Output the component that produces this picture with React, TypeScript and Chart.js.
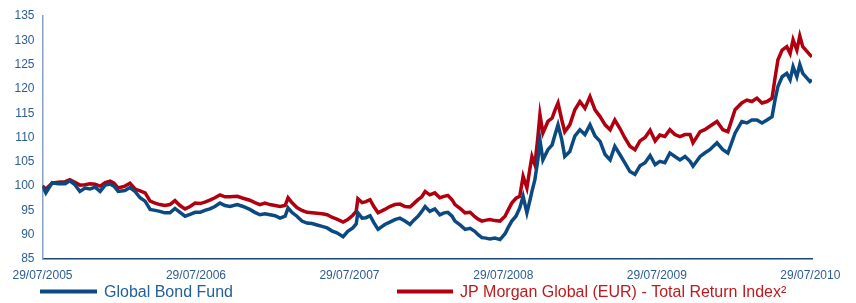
import React, { useEffect, useRef } from "react";
import { Chart, registerables } from "chart.js";

Chart.register(...registerables);

// Days since 29/07/2005
const days = [
  0, 8, 23, 37, 54, 65, 77, 89, 101, 113, 125, 137, 149, 161, 170, 180, 196, 208, 220, 232,
  244, 256, 268, 279, 291, 303, 315, 327, 339, 351, 363, 375, 386, 398, 410, 422, 434, 446, 463, 477,
  493, 505, 517, 529, 541, 553, 565, 577, 584, 593, 605, 617, 629, 641, 653, 665, 677, 688, 700, 715,
  726, 738, 746, 750, 760, 769, 779, 788, 798, 814, 826, 838, 850, 862, 874, 883, 893, 902, 910, 921,
  933, 945, 955, 964, 974, 981, 993, 1005, 1017, 1028, 1036, 1045, 1055, 1064, 1076, 1088, 1100, 1107, 1116, 1126,
  1135, 1143, 1152, 1159, 1164, 1171, 1178, 1183, 1190, 1202, 1212, 1219, 1226, 1235, 1242, 1254, 1266, 1278, 1290, 1302,
  1314, 1326, 1338, 1350, 1361, 1373, 1385, 1397, 1409, 1421, 1433, 1445, 1457, 1468, 1480, 1492, 1504, 1516, 1528, 1540,
  1547, 1564, 1575, 1587, 1604, 1618, 1630, 1647, 1663, 1675, 1687, 1699, 1711, 1723, 1735, 1742, 1749, 1759, 1770, 1778,
  1785, 1794, 1801, 1808, 1818, 1825, 1830,
];

const globalBondFund = [
  100.0, 98.6, 100.7, 100.5, 100.5, 101.1, 100.3, 98.9, 99.6, 99.4, 99.8, 98.9, 100.2, 100.4, 100.0, 98.9, 99.1, 99.7, 98.9, 97.6,
  96.9, 95.2, 95.0, 94.8, 94.5, 94.5, 95.4, 94.6, 93.8, 94.2, 94.6, 94.6, 95.0, 95.3, 95.8, 96.5, 96.0, 95.8, 96.2, 95.8,
  95.2, 94.6, 94.1, 94.3, 94.1, 93.9, 93.4, 93.8, 95.5, 94.6, 93.8, 92.8, 92.4, 92.3, 92.0, 91.7, 91.4, 90.8, 90.4, 89.6,
  90.7, 91.4, 92.2, 94.5, 93.4, 93.5, 93.9, 92.5, 91.1, 92.1, 92.6, 93.1, 93.4, 92.8, 92.1, 93.0, 93.8, 94.8, 95.8, 94.8,
  95.3, 94.1, 94.5, 94.6, 93.8, 92.8, 92.0, 91.1, 91.3, 90.7, 90.0, 89.4, 89.3, 89.1, 89.3, 89.0, 90.2, 91.4, 92.8, 93.8,
  95.5, 97.9, 94.5, 97.0, 98.9, 101.3, 105.4, 109.5, 105.4, 107.5, 108.5, 110.6, 112.6, 109.5, 106.1, 107.1, 110.3, 111.6, 110.6, 112.6,
  110.3, 109.2, 106.5, 105.4, 108.2, 106.5, 104.8, 103.0, 102.4, 104.2, 104.8, 106.3, 104.4, 105.1, 104.8, 106.8, 106.1, 105.4, 106.1, 105.1,
  104.1, 106.1, 106.8, 107.5, 108.9, 107.5, 106.8, 110.9, 113.3, 113.0, 113.6, 113.6, 113.0, 113.6, 114.3, 117.7, 120.5, 122.5, 123.2, 121.9,
  124.6, 122.5, 125.0, 123.2, 122.2, 121.5, 121.9,
];

const jpMorganGlobal = [
  100.0, 99.4, 100.6, 100.8, 100.9, 101.3, 100.8, 100.2, 100.3, 100.5, 100.4, 100.0, 100.7, 101.0, 100.6, 99.6, 100.0, 100.6, 99.4, 99.0,
  98.6, 96.9, 96.5, 96.2, 96.0, 96.2, 97.0, 96.0, 95.3, 95.8, 96.5, 96.4, 96.7, 97.1, 97.6, 98.2, 97.8, 97.8, 97.9, 97.5,
  97.1, 96.6, 96.2, 96.5, 96.2, 96.0, 95.8, 96.0, 97.6, 96.6, 95.6, 95.0, 94.6, 94.5, 94.4, 94.3, 94.1, 93.6, 93.2, 92.6,
  93.1, 94.0, 94.8, 97.4, 96.6, 96.8, 97.2, 95.8, 94.5, 95.2, 95.8, 96.2, 96.3, 95.8, 95.7, 96.4, 97.2, 97.8, 98.9, 98.2,
  98.6, 97.6, 97.9, 98.1, 97.2, 96.2, 95.4, 94.5, 94.6, 93.7, 93.2, 92.8, 93.0, 93.1, 92.9, 92.8, 93.8, 95.0, 96.5, 97.5,
  97.9, 102.0, 99.6, 103.5, 106.1, 104.4, 110.0, 114.7, 110.9, 113.3, 114.0, 115.7, 117.1, 113.6, 111.2, 112.6, 115.7, 117.4, 116.0, 118.4,
  115.7, 114.3, 112.6, 111.6, 113.6, 111.9, 109.9, 108.2, 107.5, 109.3, 110.0, 111.5, 109.3, 110.5, 110.2, 111.6, 110.6, 110.2, 110.6, 110.6,
  108.9, 111.2, 111.6, 112.3, 113.3, 111.6, 111.2, 115.7, 117.1, 117.7, 117.4, 118.1, 117.1, 117.4, 118.1, 122.2, 126.0, 128.0, 128.7, 127.3,
  130.1, 128.0, 130.9, 128.7, 127.7, 127.0, 126.6,
];

const tickDays = [0, 365, 730, 1096, 1461, 1826];
const tickLabels = ["29/07/2005", "29/07/2006", "29/07/2007", "29/07/2008", "29/07/2009", "29/07/2010"];
const seriesNames = ["Global Bond Fund", "JP Morgan Global (EUR) - Total Return Index\u00B2"];
const seriesColors = ["#0b4a80", "#b0000f"];
const legendTextColors = ["#24609c", "#bd1a1f"];

const FONT = "'Liberation Sans', Arial, Helvetica, sans-serif";

const legendPlugin = {
  id: "bottomLegend",
  afterDraw(chart: any) {
    const ctx = chart.ctx;
    const items = [
      { lineX: 40, lineW: 57, textX: 104 },
      { lineX: 397, lineW: 56, textX: 460 },
    ];
    ctx.save();
    chart.data.datasets.forEach((ds: any, i: number) => {
      const it = items[i];
      ctx.fillStyle = ds.borderColor;
      ctx.fillRect(it.lineX, 289.5, it.lineW, 4);
      ctx.font = `16px ${FONT}`;
      ctx.textBaseline = "alphabetic";
      ctx.textAlign = "left";
      ctx.fillStyle = legendTextColors[i];
      ctx.fillText(ds.label, it.textX, 297);
    });
    ctx.restore();
  },
};

export default function App() {
  const ref = useRef<HTMLCanvasElement>(null);
  useEffect(() => {
    if (!ref.current) return;
    const mk = (vals: number[]) => vals.map((v, i) => ({ x: days[i], y: v }));
    const chart = new Chart(ref.current, {
      type: "line",
      data: {
        datasets: [
          {
            label: seriesNames[0],
            data: mk(globalBondFund),
            borderColor: seriesColors[0],
            backgroundColor: seriesColors[0],
            borderWidth: 3.5,
            pointRadius: 0,
            tension: 0,
          },
          {
            label: seriesNames[1],
            data: mk(jpMorganGlobal),
            borderColor: seriesColors[1],
            backgroundColor: seriesColors[1],
            borderWidth: 3.5,
            pointRadius: 0,
            tension: 0,
          },
        ],
      },
      options: {
        animation: false,
        responsive: false,
        maintainAspectRatio: false,
        layout: { padding: { left: 0, right: 44, top: 16, bottom: 0 } },
        plugins: { legend: { display: false }, tooltip: { enabled: false } },
        scales: {
          x: {
            type: "linear",
            min: 0,
            max: 1830,
            grid: { display: false, drawTicks: false },
            border: { display: true, color: "#1c4676", width: 1.5 },
            afterBuildTicks: (scale: any) => {
              scale.ticks = tickDays.map((v) => ({ value: v }));
            },
            afterFit: (scale: any) => {
              scale.height = 44;
            },
            ticks: {
              autoSkip: false,
              maxRotation: 0,
              padding: 9,
              color: "#2d5d92",
              font: { family: FONT, size: 12 },
              callback: (v: any) => {
                const idx = tickDays.indexOf(Number(v));
                return idx >= 0 ? tickLabels[idx] : "";
              },
            },
          },
          y: {
            min: 85,
            max: 135,
            grid: { display: false, drawTicks: false },
            border: { display: true, color: "#86a3c3", width: 1.5 },
            afterFit: (scale: any) => {
              scale.width = 42.5;
            },
            ticks: {
              stepSize: 5,
              padding: 8,
              color: "#2d5d92",
              font: { family: FONT, size: 12 },
            },
          },
        },
      },
      plugins: [legendPlugin],
    });
    return () => chart.destroy();
  }, []);

  return (
    <div style={{ position: "absolute", left: 0, top: 0, width: 856, height: 303, background: "#fff" }}>
      <canvas ref={ref} width={856} height={303} style={{ display: "block", width: 856, height: 303 }} />
    </div>
  );
}
